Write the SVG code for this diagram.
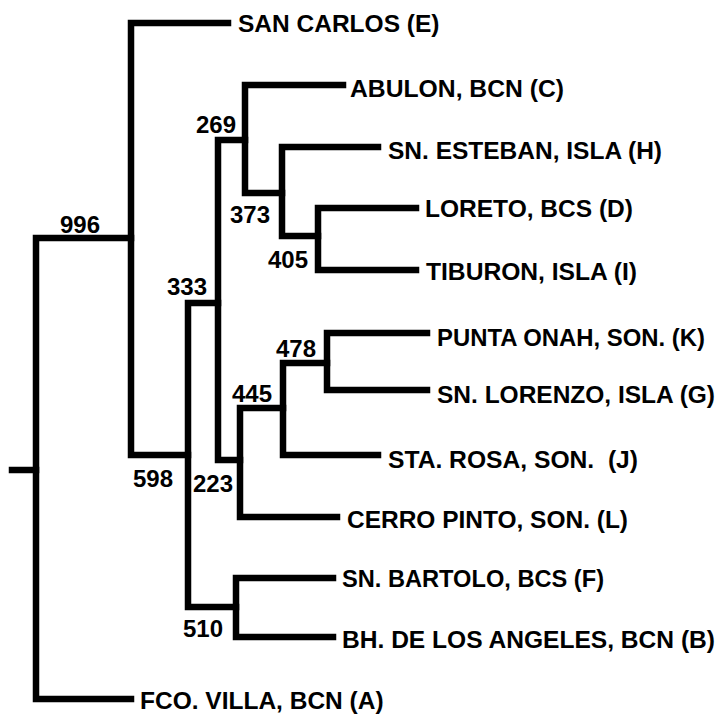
<svg xmlns="http://www.w3.org/2000/svg" width="720" height="718" viewBox="0 0 720 718">
<style>
.e{fill:none;stroke:#000;stroke-width:6.5;stroke-linecap:square;stroke-linejoin:miter}
.t{font-family:"Liberation Sans",Arial,sans-serif;font-weight:bold;font-size:24.5px;fill:#000}
.n{font-family:"Liberation Sans",Arial,sans-serif;font-weight:bold;font-size:24px;fill:#000}
</style>
<rect width="720" height="718" fill="#fff"/>
<g id="connectors">
<path class="e" d="M12,470 H36"/>
<path class="e" d="M131,238 H36 V699 H131"/>
<path class="e" d="M228,23 H131 V455 H188"/>
<path class="e" d="M218,303 H188 V607 H236"/>
<path class="e" d="M245,140 H218 V460 H240"/>
<path class="e" d="M343,85 H245 V193 H282"/>
<path class="e" d="M378,147 H282 V236 H318"/>
<path class="e" d="M416,208 H318 V270 H416"/>
<path class="e" d="M283,408 H240 V517 H337"/>
<path class="e" d="M327,363 H283 V455 H378"/>
<path class="e" d="M427,333 H327 V390 H427"/>
<path class="e" d="M333,578 H236 V637 H333"/>
</g>
<g id="n996"><text class="n" x="60" y="233">996</text></g>
<g id="n598"><text class="n" x="133" y="487">598</text></g>
<g id="n333"><text class="n" x="167" y="295">333</text></g>
<g id="n269"><text class="n" x="196" y="133">269</text></g>
<g id="n373"><text class="n" x="230" y="223">373</text></g>
<g id="n405"><text class="n" x="268" y="268">405</text></g>
<g id="n223"><text class="n" x="193" y="492">223</text></g>
<g id="n445"><text class="n" x="232" y="402">445</text></g>
<g id="n478"><text class="n" x="276" y="357">478</text></g>
<g id="n510"><text class="n" x="183" y="637">510</text></g>
<g id="leafE"><text class="t" x="238" y="32">SAN CARLOS (E)</text></g>
<g id="leafC"><text class="t" x="350" y="97" textLength="214" lengthAdjust="spacingAndGlyphs">ABULON, BCN (C)</text></g>
<g id="leafH"><text class="t" x="388" y="159" textLength="274" lengthAdjust="spacingAndGlyphs">SN. ESTEBAN, ISLA (H)</text></g>
<g id="leafD"><text class="t" x="425" y="217" textLength="208" lengthAdjust="spacingAndGlyphs">LORETO, BCS (D)</text></g>
<g id="leafI"><text class="t" x="426" y="280" textLength="211" lengthAdjust="spacingAndGlyphs">TIBURON, ISLA (I)</text></g>
<g id="leafK"><text class="t" x="437" y="346" textLength="268" lengthAdjust="spacingAndGlyphs">PUNTA ONAH, SON. (K)</text></g>
<g id="leafG"><text class="t" x="437" y="403" textLength="278" lengthAdjust="spacingAndGlyphs">SN. LORENZO, ISLA (G)</text></g>
<g id="leafJ"><text class="t" x="388" y="468" xml:space="preserve" textLength="250" lengthAdjust="spacingAndGlyphs">STA. ROSA, SON.  (J)</text></g>
<g id="leafL"><text class="t" x="347" y="528" textLength="281" lengthAdjust="spacingAndGlyphs">CERRO PINTO, SON. (L)</text></g>
<g id="leafF"><text class="t" x="342" y="587" textLength="262" lengthAdjust="spacingAndGlyphs">SN. BARTOLO, BCS (F)</text></g>
<g id="leafB"><text class="t" x="342" y="648" textLength="373" lengthAdjust="spacingAndGlyphs">BH. DE LOS ANGELES, BCN (B)</text></g>
<g id="leafA"><text class="t" x="140" y="709">FCO. VILLA, BCN (A)</text></g>
</svg>
